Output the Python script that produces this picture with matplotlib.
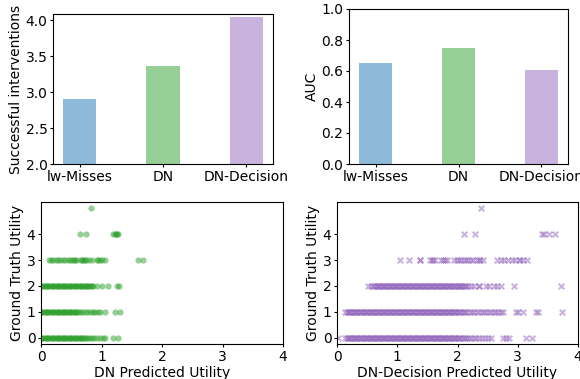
import numpy as np
import matplotlib
matplotlib.use("Agg")
import matplotlib.pyplot as plt

# bar charts
methods = ["lw-Misses", "DN", "DN-Decision"]
interventions = [2.91, 3.37, 4.05]
auc = [0.653, 0.75, 0.608]
bar_colors = ["tab:blue", "tab:green", "tab:purple"]

# DN predicted utility, one list per ground-truth level (0..5)
dn_u0 = [0.00, 0.02, 0.04, 0.06, 0.08, 0.10, 0.12, 0.14, 0.16, 0.18, 0.20, 0.22,
         0.24, 0.26, 0.28, 0.30, 0.32, 0.34, 0.36, 0.38, 0.40, 0.42, 0.44, 0.46,
         0.48, 0.50, 0.52, 0.54, 0.56, 0.58, 0.60, 0.62, 0.64, 0.66, 0.68, 0.70,
         0.72, 0.75, 0.78, 0.81, 0.84, 0.88, 0.92, 0.97, 1.02, 1.06, 1.19, 1.28]
dn_u1 = [0.00, 0.02, 0.04, 0.06, 0.08, 0.10, 0.12, 0.14, 0.16, 0.18, 0.20, 0.22,
         0.24, 0.26, 0.28, 0.30, 0.32, 0.34, 0.36, 0.38, 0.40, 0.42, 0.44, 0.46,
         0.48, 0.50, 0.52, 0.54, 0.56, 0.58, 0.60, 0.62, 0.66, 0.70, 0.74, 0.78,
         0.82, 0.86, 0.90, 0.94, 0.98, 1.06, 1.23, 1.31]
dn_u2 = [0.00, 0.02, 0.04, 0.06, 0.08, 0.10, 0.12, 0.14, 0.16, 0.18, 0.20, 0.22,
         0.24, 0.26, 0.28, 0.30, 0.32, 0.34, 0.36, 0.38, 0.40, 0.42, 0.44, 0.46,
         0.48, 0.50, 0.52, 0.54, 0.56, 0.58, 0.60, 0.62, 0.64, 0.66, 0.68, 0.70,
         0.72, 0.74, 0.76, 0.78, 0.80, 0.82, 0.84, 0.86, 0.93, 1.01, 1.10, 1.26,
         1.29]
dn_u3 = [0.13, 0.16, 0.20, 0.25, 0.28, 0.32, 0.36, 0.40, 0.44, 0.48, 0.52, 0.55,
         0.57, 0.59, 0.66, 0.68, 0.70, 0.72, 0.75, 0.79, 0.84, 0.92, 0.95, 0.97,
         1.00, 1.06, 1.61, 1.68]
dn_u4 = [0.64, 0.75, 1.19, 1.22, 1.24, 1.26, 1.28]
dn_u5 = [0.82]

# DN-Decision predicted utility, one list per ground-truth level (0..5)
dd_u0 = [0.02, 0.14, 0.16, 0.18, 0.20, 0.22, 0.24, 0.26, 0.28, 0.30, 0.32, 0.34,
         0.36, 0.38, 0.40, 0.42, 0.44, 0.46, 0.48, 0.50, 0.52, 0.54, 0.56, 0.58,
         0.60, 0.62, 0.64, 0.66, 0.68, 0.70, 0.72, 0.74, 0.76, 0.78, 0.80, 0.82,
         0.84, 0.86, 0.88, 0.90, 0.92, 0.94, 0.96, 0.98, 1.00, 1.02, 1.04, 1.06,
         1.08, 1.10, 1.12, 1.14, 1.16, 1.18, 1.20, 1.22, 1.24, 1.26, 1.28, 1.30,
         1.32, 1.34, 1.36, 1.38, 1.40, 1.42, 1.44, 1.46, 1.48, 1.50, 1.52, 1.54,
         1.56, 1.58, 1.60, 1.62, 1.64, 1.66, 1.68, 1.70, 1.72, 1.74, 1.76, 1.78,
         1.80, 1.82, 1.84, 1.86, 1.88, 1.90, 1.92, 1.94, 1.96, 1.98, 2.00, 2.02,
         2.04, 2.07, 2.10, 2.13, 2.16, 2.19, 2.23, 2.27, 2.31, 2.36, 2.41, 2.46,
         2.51, 2.55, 2.76, 2.81, 2.86, 3.14, 3.24]
dd_u1 = [0.14, 0.16, 0.18, 0.20, 0.22, 0.24, 0.26, 0.28, 0.30, 0.32, 0.34, 0.36,
         0.38, 0.40, 0.42, 0.44, 0.46, 0.48, 0.50, 0.52, 0.54, 0.56, 0.58, 0.60,
         0.62, 0.64, 0.66, 0.68, 0.70, 0.72, 0.74, 0.76, 0.78, 0.80, 0.82, 0.84,
         0.86, 0.88, 0.90, 0.92, 0.94, 0.96, 0.98, 1.00, 1.02, 1.04, 1.06, 1.08,
         1.10, 1.12, 1.14, 1.16, 1.18, 1.20, 1.22, 1.24, 1.26, 1.28, 1.30, 1.32,
         1.34, 1.36, 1.38, 1.40, 1.42, 1.44, 1.46, 1.48, 1.50, 1.52, 1.54, 1.56,
         1.58, 1.60, 1.62, 1.64, 1.66, 1.68, 1.70, 1.72, 1.74, 1.76, 1.78, 1.80,
         1.82, 1.84, 1.86, 1.88, 1.90, 1.92, 1.94, 1.96, 1.98, 2.00, 2.02, 2.04,
         2.07, 2.10, 2.13, 2.16, 2.20, 2.24, 2.28, 2.32, 2.36, 2.40, 2.44, 2.48,
         2.52, 2.56, 2.60, 2.64, 2.68, 2.72, 2.75, 2.97, 3.00, 3.08, 3.31, 3.33,
         3.74]
dd_u2 = [0.52, 0.56, 0.60, 0.62, 0.64, 0.66, 0.68, 0.70, 0.72, 0.74, 0.76, 0.78,
         0.80, 0.82, 0.84, 0.86, 0.88, 0.90, 0.92, 0.94, 0.96, 0.98, 1.00, 1.02,
         1.04, 1.06, 1.08, 1.10, 1.12, 1.14, 1.16, 1.18, 1.20, 1.22, 1.24, 1.26,
         1.28, 1.30, 1.32, 1.34, 1.36, 1.38, 1.40, 1.42, 1.44, 1.46, 1.48, 1.50,
         1.52, 1.54, 1.56, 1.58, 1.60, 1.62, 1.64, 1.66, 1.68, 1.70, 1.72, 1.74,
         1.76, 1.78, 1.80, 1.82, 1.84, 1.86, 1.88, 1.90, 1.92, 1.94, 1.96, 1.98,
         2.00, 2.02, 2.04, 2.06, 2.08, 2.10, 2.12, 2.14, 2.18, 2.22, 2.27, 2.35,
         2.36, 2.47, 2.53, 2.60, 2.66, 2.72, 2.94, 3.71]
dd_u3 = [1.05, 1.20, 1.37, 1.38, 1.54, 1.57, 1.60, 1.63, 1.73, 1.76, 1.79, 1.82,
         1.95, 1.99, 2.02, 2.06, 2.10, 2.14, 2.18, 2.22, 2.26, 2.33, 2.36, 2.37,
         2.42, 2.66, 2.72, 2.78, 2.84, 2.90, 2.96, 3.02, 3.04, 3.08, 3.15]
dd_u4 = [2.10, 2.29, 3.41, 3.43, 3.52, 3.62]
dd_u5 = [2.39]


def stack_levels(rows):
    xs, ys = [], []
    for level, row in enumerate(rows):
        xs += row
        ys += [level] * len(row)
    return np.array(xs), np.array(ys)


plt.rcParams["font.size"] = 10
plt.rcParams["xtick.major.size"] = 2.5
plt.rcParams["ytick.major.size"] = 2.5
plt.rcParams["xtick.major.pad"] = 1.5
plt.rcParams["ytick.major.pad"] = 1.5
plt.rcParams["axes.labelpad"] = 2.0

fig = plt.figure(figsize=(5.8, 3.79), dpi=100)
W, H = 580, 379


def box(left, right, top, bottom):
    return [left / W, (H - bottom) / H, (right - left) / W, (bottom - top) / H]


ax1 = fig.add_axes(box(53, 273, 14, 164))
ax2 = fig.add_axes(box(349, 568, 9, 164))
ax3 = fig.add_axes(box(41, 283, 202, 344))
ax4 = fig.add_axes(box(337, 578, 202, 344))

pos = np.arange(len(methods))
ax1.bar(pos, interventions, width=0.4, color=bar_colors, alpha=0.5)
ax1.set_ylim(2.0, 4.09)
ax1.set_xticks(pos)
ax1.set_xticklabels(methods)
ax1.set_ylabel("Successful interventions")

ax2.bar(pos, auc, width=0.4, color=bar_colors, alpha=0.5)
ax2.set_ylim(0, 1.0)
ax2.set_xticks(pos)
ax2.set_xticklabels(methods)
ax2.set_ylabel("AUC")

x, y = stack_levels([dn_u0, dn_u1, dn_u2, dn_u3, dn_u4, dn_u5])
ax3.scatter(x, y, color="tab:green", alpha=0.5, s=20, marker="o", linewidths=0)
ax3.set_xlim(0, 4)
ax3.set_ylim(-0.25, 5.25)
ax3.set_yticks([0, 1, 2, 3, 4])
ax3.set_xticks([0, 1, 2, 3, 4])
ax3.set_xlabel("DN Predicted Utility")
ax3.set_ylabel("Ground Truth Utility")

x, y = stack_levels([dd_u0, dd_u1, dd_u2, dd_u3, dd_u4, dd_u5])
ax4.scatter(x, y, color="tab:purple", alpha=0.5, s=16, marker="x", linewidths=1.5)
ax4.set_xlim(0, 4)
ax4.set_ylim(-0.25, 5.25)
ax4.set_yticks([0, 1, 2, 3, 4])
ax4.set_xticks([0, 1, 2, 3, 4])
ax4.set_xlabel("DN-Decision Predicted Utility")
ax4.set_ylabel("Ground Truth Utility")

fig.savefig("out.png", dpi=100)
